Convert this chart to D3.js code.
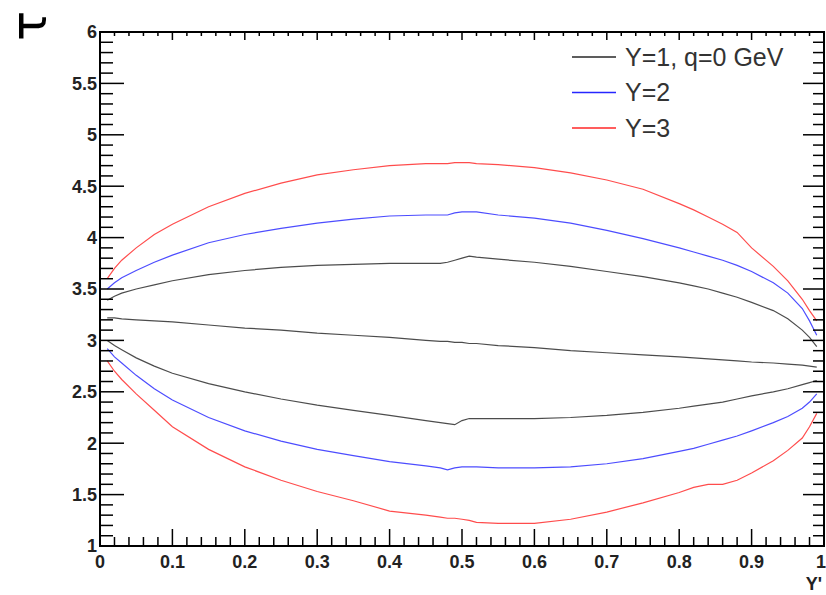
<!DOCTYPE html>
<html>
<head>
<meta charset="utf-8">
<script src="https://cdn.jsdelivr.net/npm/d3@7"></script>
<style>
  html, body { margin: 0; padding: 0; background: #fff; }
  svg { display: block; }
</style>
</head>
<body>
<svg id="chart" width="826" height="595"></svg>
<script>
// ---- Data ----
const xGrid = [0.01,0.02,0.03,0.05,0.075,0.1,0.15,0.2,0.25,0.3,0.35,0.4,0.45,0.47,0.48,0.49,0.5,0.51,0.52,0.55,0.6,0.65,0.7,0.75,0.8,0.82,0.84,0.86,0.88,0.9,0.93,0.95,0.97,0.98,0.99];

const redUpper   = [3.60,3.70,3.78,3.90,4.03,4.13,4.30,4.43,4.53,4.61,4.66,4.70,4.72,4.72,4.72,4.73,4.73,4.73,4.72,4.71,4.68,4.63,4.56,4.47,4.33,4.27,4.20,4.13,4.05,3.90,3.72,3.58,3.40,3.29,3.19];
const blueUpper  = [3.50,3.56,3.61,3.68,3.76,3.83,3.95,4.03,4.09,4.14,4.18,4.21,4.22,4.22,4.22,4.24,4.25,4.25,4.25,4.22,4.19,4.14,4.07,3.99,3.90,3.86,3.82,3.78,3.73,3.67,3.56,3.46,3.31,3.19,3.05];
const blackUpper = [3.39,3.43,3.46,3.50,3.54,3.58,3.64,3.68,3.71,3.73,3.74,3.75,3.75,3.75,3.76,3.78,3.80,3.82,3.81,3.79,3.76,3.72,3.67,3.62,3.56,3.53,3.50,3.46,3.42,3.37,3.29,3.21,3.10,3.03,2.94];
const blackMid   = [3.22,3.22,3.21,3.20,3.19,3.18,3.15,3.12,3.10,3.07,3.05,3.03,3.00,2.99,2.99,2.98,2.98,2.97,2.97,2.95,2.93,2.90,2.88,2.86,2.84,2.83,2.82,2.81,2.80,2.79,2.78,2.77,2.76,2.75,2.74];
const blackLower = [3.00,2.95,2.91,2.83,2.75,2.68,2.58,2.50,2.43,2.37,2.32,2.27,2.22,2.20,2.19,2.18,2.22,2.24,2.24,2.24,2.24,2.25,2.27,2.30,2.34,2.36,2.38,2.40,2.43,2.46,2.50,2.53,2.57,2.59,2.61];
const blueLower  = [2.92,2.84,2.78,2.66,2.53,2.42,2.25,2.12,2.02,1.94,1.88,1.82,1.78,1.76,1.74,1.76,1.77,1.77,1.77,1.76,1.76,1.77,1.80,1.85,1.92,1.95,1.99,2.03,2.07,2.12,2.20,2.26,2.34,2.40,2.48];
const redLower   = [2.80,2.70,2.62,2.48,2.32,2.16,1.94,1.77,1.64,1.53,1.44,1.34,1.30,1.28,1.27,1.27,1.26,1.25,1.23,1.22,1.22,1.26,1.33,1.42,1.52,1.57,1.60,1.60,1.64,1.71,1.83,1.93,2.05,2.16,2.29];

const xTickLabels = ["0","0.1","0.2","0.3","0.4","0.5","0.6","0.7","0.8","0.9","1"];
const yTickLabels = ["1","1.5","2","2.5","3","3.5","4","4.5","5","5.5","6"];
const legendLabels = ["Y=1, q=0 GeV","Y=2","Y=3"];
const legendColors = ["#000000","#0000ff","#ff0000"];

const series = [
  {values: redUpper, color: "#ff0000"},
  {values: blueUpper, color: "#0000ff"},
  {values: blackUpper, color: "#000000"},
  {values: blackMid, color: "#000000"},
  {values: blackLower, color: "#000000"},
  {values: blueLower, color: "#0000ff"},
  {values: redLower, color: "#ff0000"}
];

// ---- Layout ----
const SANS = "'Liberation Sans', Arial, Helvetica, sans-serif";
const L = 100, R = 824, T = 32, B = 546;
const svg = d3.select("#chart");
const x = d3.scaleLinear().domain([0, 1]).range([L, R]);
const y = d3.scaleLinear().domain([1, 6]).range([B, T]);

// curves
const line = d3.line().x(d => x(d[0])).y(d => y(d[1]));
series.forEach(s => {
  svg.append("path")
    .datum(xGrid.map((xv, i) => [xv, s.values[i]]))
    .attr("d", line)
    .attr("fill", "none")
    .attr("stroke", s.color)
    .attr("stroke-opacity", 0.7)
    .attr("stroke-width", 1.2);
});

// frame
svg.append("rect").attr("x", L).attr("y", T).attr("width", R - L).attr("height", B - T)
  .attr("fill", "none").attr("stroke", "#000").attr("stroke-width", 2);

const ticks = svg.append("g").attr("stroke", "#000").attr("stroke-width", 1.5);
// x ticks every 0.02
d3.range(0, 51).forEach(i => {
  const xv = x(i / 50);
  const major = i % 5 === 0;
  ticks.append("line").attr("x1", xv).attr("x2", xv).attr("y1", B).attr("y2", B - (major ? 17 : 9));
  ticks.append("line").attr("x1", xv).attr("x2", xv).attr("y1", T).attr("y2", T + (major ? 8 : 4));
});
// y ticks every 0.1
d3.range(0, 51).forEach(i => {
  const yv = y(1 + i / 10);
  const major = i % 5 === 0;
  ticks.append("line").attr("y1", yv).attr("y2", yv).attr("x1", L).attr("x2", L + (major ? 24 : 13));
  ticks.append("line").attr("y1", yv).attr("y2", yv).attr("x1", R).attr("x2", R - (major ? 21 : 11));
});

// tick labels
svg.append("g").selectAll("text").data(xTickLabels).join("text")
  .attr("x", (d, i) => i === xTickLabels.length - 1 ? 826 : x(i / 10))
  .attr("y", 568)
  .attr("text-anchor", (d, i) => i === xTickLabels.length - 1 ? "end" : "middle")
  .style("font-family", SANS)
  .style("font-size", "18px")
  .style("font-weight", "bold")
  .attr("fill", "#222")
  .text(d => d);

svg.append("g").selectAll("text").data(yTickLabels).join("text")
  .attr("x", 97)
  .attr("y", (d, i) => y(1 + i * 0.5))
  .attr("dy", "0.35em")
  .attr("text-anchor", "end")
  .style("font-family", SANS)
  .style("font-size", "18px")
  .style("font-weight", "bold")
  .attr("fill", "#222")
  .text(d => d);

// axis titles
svg.append("text").attr("x", 822).attr("y", 590).attr("text-anchor", "end")
  .style("font-family", SANS).style("font-size", "18px").style("font-weight", "bold")
  .attr("fill", "#222").text("Y'");

svg.append("text")
  .attr("transform", "translate(46,26) rotate(-90)")
  .attr("text-anchor", "middle")
  .style("font-family", "'DejaVu Sans', sans-serif")
  .style("font-size", "50px")
  .attr("fill", "#000")
  .text("τ");

// legend
const lg = svg.append("g");
legendLabels.forEach((lab, i) => {
  const yy = 57 + i * 35.5;
  lg.append("line").attr("x1", 572).attr("x2", 616).attr("y1", yy).attr("y2", yy)
    .attr("stroke", legendColors[i]).attr("stroke-width", 1.5).attr("stroke-opacity", 0.85);
  lg.append("text").attr("x", 625).attr("y", yy + 8.5)
    .style("font-family", SANS).style("font-size", "25px")
    .attr("fill", "#333").text(lab);
});
</script>
</body>
</html>
